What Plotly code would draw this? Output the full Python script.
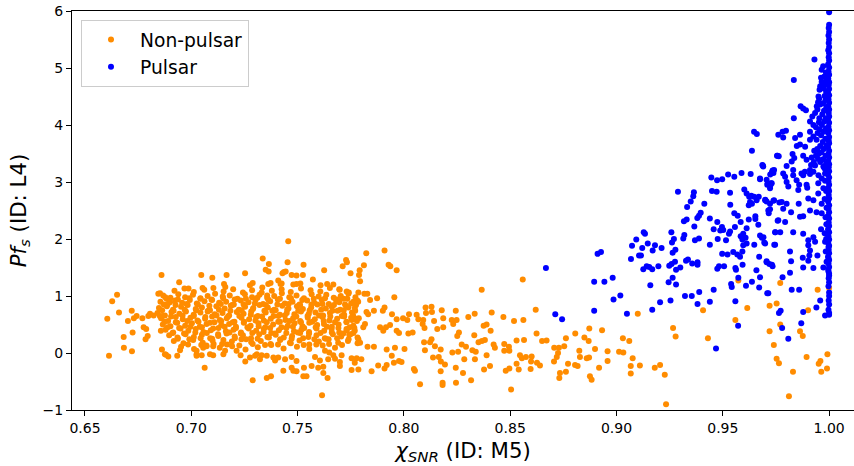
import plotly.graph_objects as go

# Non-pulsar candidates: dense body of the distribution (chi_SNR, Pf_s)
nonpulsar_core = [
    (0.6921, 1.09), (0.6968, 1.13), (0.7012, 1.07), (0.7061, 1.11), (0.7104, 1.14), (0.7152, 1.08),
    (0.7197, 1.12), (0.7243, 1.06), (0.7286, 1.10), (0.7334, 1.15), (0.7379, 1.09), (0.7425, 1.12),
    (0.7468, 1.07), (0.7516, 1.13), (0.7561, 1.10), (0.7607, 1.08), (0.7652, 1.14), (0.7698, 1.11),
    (0.7741, 1.06),
    (0.6868, 1.01), (0.6902, 0.97), (0.6939, 1.03), (0.6971, 0.98), (0.7008, 1.02), (0.7043, 0.96),
    (0.7077, 1.00), (0.7112, 1.04), (0.7148, 0.99), (0.7181, 1.01), (0.7217, 0.95), (0.7252, 1.03),
    (0.7286, 0.98), (0.7321, 1.02), (0.7357, 0.97), (0.7390, 1.00), (0.7426, 1.05), (0.7461, 0.98),
    (0.7495, 1.01), (0.7530, 0.96), (0.7566, 1.03), (0.7599, 0.99), (0.7635, 1.02), (0.7670, 0.97),
    (0.7703, 1.00), (0.7739, 1.04), (0.7772, 0.98),
    (0.6855, 0.90), (0.6889, 0.86), (0.6924, 0.92), (0.6957, 0.88), (0.6993, 0.93), (0.7026, 0.87),
    (0.7062, 0.91), (0.7095, 0.94), (0.7131, 0.88), (0.7164, 0.90), (0.7200, 0.85), (0.7233, 0.92),
    (0.7269, 0.89), (0.7302, 0.93), (0.7338, 0.86), (0.7371, 0.91), (0.7407, 0.94), (0.7440, 0.87),
    (0.7476, 0.90), (0.7509, 0.85), (0.7545, 0.92), (0.7578, 0.88), (0.7614, 0.93), (0.7647, 0.86),
    (0.7683, 0.91), (0.7716, 0.95), (0.7752, 0.87), (0.7785, 0.90),
    (0.6848, 0.79), (0.6885, 0.82), (0.6914, 0.76), (0.6952, 0.81), (0.6983, 0.84), (0.7021, 0.77),
    (0.7050, 0.80), (0.7088, 0.75), (0.7118, 0.82), (0.7157, 0.78), (0.7186, 0.83), (0.7224, 0.76),
    (0.7253, 0.81), (0.7292, 0.79), (0.7321, 0.84), (0.7360, 0.80), (0.7390, 0.76), (0.7428, 0.83),
    (0.7457, 0.78), (0.7497, 0.82), (0.7525, 0.77), (0.7564, 0.80), (0.7593, 0.85), (0.7633, 0.78),
    (0.7661, 0.81), (0.7700, 0.76), (0.7729, 0.82), (0.7769, 0.79),
    (0.6841, 0.70), (0.6876, 0.66), (0.6907, 0.72), (0.6944, 0.69), (0.6975, 0.73), (0.7011, 0.67),
    (0.7043, 0.71), (0.7079, 0.74), (0.7110, 0.68), (0.7147, 0.70), (0.7178, 0.66), (0.7214, 0.72),
    (0.7246, 0.69), (0.7282, 0.73), (0.7313, 0.65), (0.7350, 0.71), (0.7381, 0.74), (0.7417, 0.67),
    (0.7449, 0.70), (0.7485, 0.68), (0.7516, 0.73), (0.7553, 0.69), (0.7584, 0.71), (0.7620, 0.66),
    (0.7652, 0.70), (0.7688, 0.74), (0.7719, 0.67), (0.7756, 0.71),
    (0.6858, 0.61), (0.6891, 0.56), (0.6927, 0.63), (0.6960, 0.59), (0.6996, 0.62), (0.7029, 0.57),
    (0.7065, 0.60), (0.7098, 0.64), (0.7134, 0.58), (0.7167, 0.61), (0.7203, 0.55), (0.7236, 0.62),
    (0.7272, 0.59), (0.7305, 0.63), (0.7341, 0.57), (0.7374, 0.60), (0.7410, 0.65), (0.7443, 0.58),
    (0.7479, 0.61), (0.7512, 0.56), (0.7548, 0.62), (0.7581, 0.59), (0.7617, 0.63), (0.7650, 0.57),
    (0.7686, 0.60), (0.7719, 0.64), (0.7755, 0.58), (0.7788, 0.61),
    (0.6866, 0.50), (0.6902, 0.47), (0.6934, 0.53), (0.6971, 0.48), (0.7003, 0.52), (0.7040, 0.46),
    (0.7072, 0.51), (0.7109, 0.54), (0.7141, 0.49), (0.7178, 0.51), (0.7210, 0.46), (0.7247, 0.53),
    (0.7279, 0.48), (0.7316, 0.52), (0.7348, 0.45), (0.7385, 0.50), (0.7417, 0.55), (0.7454, 0.48),
    (0.7486, 0.52), (0.7523, 0.47), (0.7555, 0.53), (0.7592, 0.49), (0.7624, 0.51), (0.7661, 0.46),
    (0.7693, 0.50), (0.7730, 0.54), (0.7762, 0.48),
    (0.6879, 0.41), (0.6915, 0.36), (0.6950, 0.43), (0.6986, 0.39), (0.7021, 0.42), (0.7057, 0.37),
    (0.7092, 0.40), (0.7128, 0.44), (0.7163, 0.38), (0.7199, 0.41), (0.7234, 0.36), (0.7270, 0.43),
    (0.7305, 0.39), (0.7341, 0.42), (0.7376, 0.35), (0.7412, 0.40), (0.7447, 0.44), (0.7483, 0.38),
    (0.7518, 0.41), (0.7554, 0.37), (0.7589, 0.43), (0.7625, 0.39), (0.7660, 0.42), (0.7696, 0.36),
    (0.7731, 0.40), (0.7767, 0.44),
    (0.6896, 0.31), (0.6935, 0.27), (0.6973, 0.33), (0.7012, 0.28), (0.7050, 0.32), (0.7089, 0.26),
    (0.7127, 0.30), (0.7166, 0.34), (0.7204, 0.29), (0.7243, 0.31), (0.7281, 0.26), (0.7320, 0.33),
    (0.7358, 0.28), (0.7397, 0.32), (0.7435, 0.27), (0.7474, 0.30), (0.7512, 0.35), (0.7551, 0.28),
    (0.7589, 0.31), (0.7628, 0.26), (0.7666, 0.33), (0.7705, 0.29), (0.7743, 0.32), (0.7782, 0.27),
    (0.6918, 0.21), (0.6963, 0.17), (0.7009, 0.23), (0.7054, 0.18), (0.7100, 0.22), (0.7145, 0.16),
    (0.7191, 0.20), (0.7236, 0.24), (0.7282, 0.19), (0.7327, 0.21), (0.7373, 0.16), (0.7418, 0.23),
    (0.7464, 0.18), (0.7509, 0.22), (0.7555, 0.15), (0.7600, 0.20), (0.7646, 0.24), (0.7691, 0.18),
    (0.7737, 0.21), (0.7782, 0.17),
    (0.6952, 0.11), (0.7013, 0.07), (0.7071, 0.13), (0.7134, 0.09), (0.7192, 0.12), (0.7255, 0.06),
    (0.7313, 0.10), (0.7376, 0.14), (0.7434, 0.08), (0.7497, 0.11), (0.7555, 0.07), (0.7618, 0.13),
    (0.7676, 0.09),
    # in-between layers of the crowded body
    (0.6884, 0.95), (0.6937, 0.94), (0.6991, 0.96), (0.7043, 0.95), (0.7098, 0.93), (0.7150, 0.96),
    (0.7204, 0.94), (0.7257, 0.95), (0.7311, 0.97), (0.7362, 0.94), (0.7417, 0.95), (0.7469, 0.96),
    (0.7522, 0.93), (0.7576, 0.95), (0.7629, 0.96), (0.7681, 0.94), (0.7734, 0.95),
    (0.6871, 0.85), (0.6926, 0.84), (0.6978, 0.86), (0.7031, 0.85), (0.7085, 0.83), (0.7139, 0.86),
    (0.7192, 0.84), (0.7246, 0.85), (0.7299, 0.87), (0.7351, 0.84), (0.7405, 0.85), (0.7458, 0.86),
    (0.7512, 0.84), (0.7565, 0.85), (0.7617, 0.86), (0.7671, 0.84), (0.7723, 0.85), (0.7775, 0.84),
    (0.6863, 0.75), (0.6917, 0.74), (0.6969, 0.76), (0.7023, 0.75), (0.7077, 0.73), (0.7130, 0.76),
    (0.7184, 0.74), (0.7237, 0.75), (0.7290, 0.77), (0.7344, 0.74), (0.7397, 0.75), (0.7451, 0.76),
    (0.7503, 0.74), (0.7557, 0.75), (0.7611, 0.76), (0.7664, 0.74), (0.7717, 0.75), (0.7771, 0.74),
    (0.6852, 0.65), (0.6905, 0.64), (0.6959, 0.66), (0.7012, 0.65), (0.7066, 0.63), (0.7119, 0.66),
    (0.7173, 0.64), (0.7226, 0.65), (0.7280, 0.67), (0.7333, 0.64), (0.7387, 0.65), (0.7440, 0.66),
    (0.7494, 0.64), (0.7547, 0.65), (0.7601, 0.66), (0.7654, 0.64), (0.7708, 0.65), (0.7761, 0.66),
    (0.6874, 0.55), (0.6927, 0.54), (0.6981, 0.56), (0.7034, 0.55), (0.7088, 0.53), (0.7141, 0.56),
    (0.7195, 0.54), (0.7248, 0.55), (0.7302, 0.57), (0.7355, 0.54), (0.7409, 0.55), (0.7462, 0.56),
    (0.7516, 0.54), (0.7569, 0.55), (0.7623, 0.56), (0.7676, 0.54), (0.7730, 0.55), (0.7779, 0.56),
    (0.6889, 0.45), (0.6943, 0.44), (0.6996, 0.46), (0.7050, 0.45), (0.7103, 0.43), (0.7157, 0.46),
    (0.7210, 0.44), (0.7264, 0.45), (0.7317, 0.47), (0.7371, 0.44), (0.7424, 0.45), (0.7478, 0.46),
    (0.7531, 0.44), (0.7585, 0.45), (0.7638, 0.46), (0.7692, 0.44), (0.7745, 0.45),
    (0.6912, 0.35), (0.6966, 0.34), (0.7019, 0.36), (0.7073, 0.35), (0.7126, 0.33), (0.7180, 0.36),
    (0.7233, 0.34), (0.7287, 0.35), (0.7340, 0.37), (0.7394, 0.34), (0.7447, 0.35), (0.7501, 0.36),
    (0.7554, 0.34), (0.7608, 0.35), (0.7661, 0.36), (0.7715, 0.34), (0.7762, 0.35),
    (0.6937, 0.25), (0.6991, 0.24), (0.7044, 0.26), (0.7098, 0.25), (0.7151, 0.23), (0.7205, 0.26),
    (0.7258, 0.24), (0.7312, 0.25), (0.7365, 0.27), (0.7419, 0.24), (0.7472, 0.25), (0.7526, 0.26),
    (0.7579, 0.24), (0.7633, 0.25), (0.7686, 0.26), (0.7740, 0.24),
    (0.6985, 0.15), (0.7047, 0.14), (0.7105, 0.16), (0.7168, 0.15), (0.7226, 0.13), (0.7289, 0.16),
    (0.7347, 0.14), (0.7408, 0.15), (0.7468, 0.17), (0.7529, 0.14), (0.7588, 0.15), (0.7648, 0.16),
    (0.7709, 0.14),
]

# Non-pulsar candidates: outer scatter and the long tail towards chi_SNR = 1
nonpulsar_spread = [
    (0.6605, 0.60), (0.6613, -0.05), (0.6628, 0.91), (0.6651, 1.02), (0.6660, 0.71), (0.6682, 0.28),
    (0.6683, 0.09), (0.6702, 0.56), (0.6720, 0.74), (0.6721, 0.03), (0.6724, 0.36), (0.6730, 0.61),
    (0.6743, 0.65), (0.6770, 0.61), (0.6776, 0.45), (0.6785, 0.24), (0.6795, 0.30), (0.6798, 0.65),
    (0.6806, 0.69), (0.6823, 0.66), (0.6788, 0.42), (0.6845, 1.04), (0.6860, 1.37), (0.6857, 0.39),
    (0.6862, 0.06), (0.6881, -0.03), (0.6878, 0.98), (0.6864, 0.65), (0.6892, -0.06), (0.6934, -0.05),
    (0.6947, 0.05), (0.7025, -0.02), (0.7025, 0.04), (0.7056, 0.09), (0.7072, 0.12), (0.7103, 0.12),
    (0.7047, 1.37), (0.7099, 1.32), (0.7166, 1.37), (0.7253, 1.40), (0.6943, 1.24), (0.6987, 1.13),
    (0.7053, 1.14), (0.7154, 1.21), (0.7160, 1.16), (0.7276, 1.19), (0.7289, 1.23), (0.7331, 1.06),
    (0.7357, 1.01), (0.7409, 1.27), (0.7436, 1.42), (0.7420, 1.21), (0.7472, 1.37), (0.7495, 1.21),
    (0.6853, 1.05), (0.6900, 0.89), (0.6876, -0.02), (0.7025, -0.05), (0.7049, -0.04), (0.7063, -0.26),
    (0.7088, -0.02), (0.7103, -0.04), (0.7151, -0.02), (0.7159, 0.04), (0.7213, 0.04), (0.7232, -0.04),
    (0.7254, -0.15), (0.7289, -0.48), (0.7355, -0.44), (0.7375, -0.41), (0.7276, -0.08), (0.7308, -0.02),
    (0.7331, -0.04), (0.7433, -0.31), (0.7472, -0.26), (0.7495, -0.32), (0.7394, -0.13), (0.7409, -0.08),
    (0.7456, 1.96), (0.7336, 1.66), (0.7365, 1.56), (0.7453, 1.59), (0.7528, 1.55), (0.7728, 1.63),
    (0.7732, 1.59), (0.7823, 1.75), (0.7909, 1.80), (0.7928, 1.55), (0.7936, 1.52), (0.7966, 1.45),
    (0.7812, 1.54), (0.7792, 1.45), (0.7789, 1.37), (0.7794, 1.26), (0.7712, 1.52), (0.7749, 1.40),
    (0.7625, 1.45), (0.7572, 1.29), (0.7525, 1.37), (0.7495, 1.36), (0.7429, 1.40), (0.7444, 1.43),
    (0.7364, 1.43), (0.7350, 1.46), (0.7362, 1.21), (0.7373, 1.23), (0.7425, 1.22), (0.7480, 1.20),
    (0.7513, 1.22), (0.7608, 1.19), (0.7639, 1.21), (0.7668, 1.20), (0.7696, 1.12), (0.7731, 1.08),
    (0.7786, 1.06), (0.7814, 1.04), (0.7828, 1.04), (0.7955, 0.98), (0.7874, 0.96), (0.7841, 0.93),
    (0.7909, 0.80), (0.7901, 0.74), (0.7944, 0.68), (0.7966, 0.59), (0.7996, 0.61), (0.8024, 0.68),
    (0.8016, 0.58), (0.8060, 0.67), (0.8068, 0.59), (0.8102, 0.80), (0.8130, 0.81), (0.8104, 0.70),
    (0.8132, 0.72), (0.8091, 0.58), (0.8088, 0.51), (0.8097, 0.44), (0.8142, 0.56), (0.8157, 0.42),
    (0.8185, 0.45), (0.8130, 0.24), (0.8123, 0.19), (0.8146, 0.12), (0.8095, 0.19), (0.8099, 0.05),
    (0.8173, 0.06), (0.8164, -0.07), (0.8137, -0.08), (0.8076, -0.55), (0.8052, -0.31), (0.8047, -0.28),
    (0.8173, -0.32), (0.8003, 0.07), (0.8021, 0.34), (0.8041, 0.36), (0.7966, 0.39), (0.7977, 0.35),
    (0.7935, 0.49), (0.7916, 0.45), (0.7903, 0.39), (0.7958, 0.09), (0.7919, 0.06), (0.7943, -0.05),
    (0.7953, -0.17), (0.7919, -0.21), (0.7909, -0.27), (0.7977, -0.14), (0.7989, -0.16), (0.7848, -0.32),
    (0.7879, -0.22), (0.7829, 0.11), (0.7859, 0.11), (0.7800, -0.11), (0.7778, -0.09), (0.7786, 0.24),
    (0.7794, 0.18), (0.7749, 0.33), (0.7769, 0.39), (0.7730, 0.42), (0.7809, 0.45), (0.7817, 0.51),
    (0.7888, 0.45), (0.7832, 0.68), (0.7824, 0.72), (0.7859, 0.74), (0.7752, 0.62), (0.7778, 0.60),
    (0.7739, 0.80), (0.7762, 0.90), (0.7781, 0.92), (0.7696, 0.89), (0.7699, 0.95), (0.7707, -0.04),
    (0.7668, -0.04), (0.7644, -0.11), (0.7699, -0.16), (0.7676, -0.10), (0.7699, -0.23), (0.7754, -0.09),
    (0.7769, -0.17), (0.7754, -0.30), (0.7786, -0.29), (0.7621, -0.24), (0.7597, -0.26), (0.7641, -0.44),
    (0.7621, -0.35), (0.7542, -0.41), (0.7527, -0.41), (0.7530, -0.26), (0.7566, -0.23), (0.7480, -0.31),
    (0.7615, -0.74), (0.7495, -0.14), (0.7472, -0.07), (0.7441, -0.11), (0.7386, -0.08), (0.7355, -0.05),
    (0.7323, -0.11), (0.7300, -0.05), (0.7582, -0.07), (0.7605, -0.13), (0.7629, 0.04), (0.7649, 0.01),
    (0.8559, 1.29), (0.8366, 1.11), (0.8620, 0.76), (0.8178, 0.75), (0.8244, 0.74), (0.8185, 0.61),
    (0.8225, 0.58), (0.8248, 0.58), (0.8232, 0.51), (0.8303, 0.63), (0.8333, 0.69), (0.8413, 0.71),
    (0.8468, 0.63), (0.8518, 0.56), (0.8562, 0.58), (0.8375, 0.48), (0.8389, 0.50), (0.8408, 0.39),
    (0.8259, 0.36), (0.8251, 0.30), (0.8331, 0.31), (0.8351, 0.19), (0.8367, 0.21), (0.8381, 0.23),
    (0.8272, 0.15), (0.8292, 0.11), (0.8228, 0.01), (0.8255, 0.02), (0.8322, 0.05), (0.8338, 0.02),
    (0.8284, -0.11), (0.8334, -0.11), (0.8389, -0.04), (0.8405, -0.23), (0.8377, -0.29), (0.8193, -0.20),
    (0.8174, -0.15), (0.8244, -0.26), (0.8278, -0.35), (0.8316, -0.48), (0.8182, -0.52), (0.8182, -0.56),
    (0.8245, -0.52), (0.8422, 0.15), (0.8428, 0.09), (0.8472, 0.16), (0.8494, 0.11), (0.8472, 0.04),
    (0.8496, 0.04), (0.8530, 0.22), (0.8565, 0.23), (0.8546, -0.04), (0.8555, -0.09), (0.8574, -0.07),
    (0.8601, -0.06), (0.8530, -0.19), (0.8540, -0.29), (0.8479, -0.31), (0.8496, -0.27), (0.8504, -0.64),
    (0.8598, -0.15), (0.8596, -0.28), (0.8626, -0.17), (0.8640, -0.22), (0.8650, 0.21), (0.8671, 0.22),
    (0.8624, 0.34), (0.8707, 0.09), (0.8729, 0.09), (0.8754, 0.12), (0.8762, 0.26), (0.8725, 0.00),
    (0.8719, -0.07), (0.8706, -0.15), (0.8734, -0.35), (0.8731, -0.44), (0.8762, -0.33), (0.8806, 0.34),
    (0.8849, 0.27), (0.8869, 0.21), (0.8872, 0.43), (0.8932, 0.40), (0.8825, 0.04), (0.8828, -0.07),
    (0.8860, -0.09), (0.8871, -0.08), (0.8772, -0.19), (0.8805, -0.21), (0.8817, -0.23), (0.8875, -0.41),
    (0.8883, -0.47), (0.8918, -0.26), (0.8958, 0.03), (0.8958, -0.14), (0.8899, 0.07), (0.9012, 0.02),
    (0.9032, 0.01), (0.9030, 0.26), (0.9060, 0.21), (0.9067, -0.23), (0.9067, -0.36),
    (0.9100, 0.69), (0.9266, 0.44), (0.9278, 0.29), (0.9407, 0.75), (0.9430, 0.26), (0.9559, 0.58),
    (0.9615, 0.79), (0.9573, 1.27), (0.9076, -0.09), (0.9110, -0.22), (0.9180, -0.26), (0.9205, -0.21),
    (0.9227, -0.38), (0.9233, -0.90), (0.9720, 0.38), (0.9720, 0.83), (0.9770, 1.23), (0.9753, 0.87),
    (0.9770, 0.50), (0.9740, 0.14), (0.9753, -0.10), (0.9764, -0.18), (0.9830, -0.33), (0.9811, -0.76),
    (0.9863, 0.38), (0.9876, 0.30), (0.9894, -0.07), (0.9901, 0.75), (0.9946, 1.11), (1.0000, 1.14),
    (0.9951, -0.19), (0.9959, -0.14), (0.9992, -0.02), (0.9990, -0.27), (0.9963, -0.33),
]

# Pulsars: broad cloud rising towards high chi_SNR
pulsar_cloud = [
    (0.8668, 1.49), (0.8712, 0.68), (0.8744, 0.59), (0.8895, 1.25), (0.8943, 1.25), (0.8982, 1.32),
    (0.8911, 1.74), (0.8927, 1.77), (0.9073, 1.88), (0.9093, 1.99), (0.9068, 1.65), (0.9106, 1.71),
    (0.8986, 0.94), (0.9018, 1.01), (0.8895, 0.74), (0.9049, 0.69),
    (0.9637, 3.55), (0.9755, 3.46), (0.9686, 3.30), (0.9690, 3.27), (0.9734, 3.20), (0.9723, 3.13),
    (0.9706, 3.04), (0.9711, 2.98), (0.9727, 2.98), (0.9723, 2.93), (0.9675, 3.05), (0.9631, 3.14),
    (0.9588, 3.16), (0.9554, 3.09), (0.9525, 3.13), (0.9497, 3.05), (0.9473, 3.03), (0.9446, 3.08),
    (0.9289, 2.83), (0.9364, 2.82), (0.9361, 2.75), (0.9349, 2.66), (0.9332, 2.56), (0.9449, 2.84),
    (0.9471, 2.83), (0.9534, 2.81), (0.9601, 2.87), (0.9612, 2.80), (0.9624, 2.74), (0.9634, 2.76),
    (0.9647, 2.74), (0.9669, 2.74), (0.9659, 2.68), (0.9628, 2.65), (0.9622, 2.59), (0.9637, 2.62),
    (0.9700, 2.69), (0.9706, 2.66), (0.9722, 2.62), (0.9741, 2.68), (0.9766, 2.64), (0.9722, 2.52),
    (0.9716, 2.45), (0.9758, 2.32), (0.9535, 2.60), (0.9413, 2.62), (0.9396, 2.46), (0.9388, 2.41),
    (0.9380, 2.37), (0.9439, 2.36), (0.9474, 2.30), (0.9496, 2.21), (0.9502, 2.16), (0.9488, 2.15),
    (0.9554, 2.45), (0.9570, 2.41), (0.9584, 2.30), (0.9622, 2.34), (0.9653, 2.40), (0.9653, 2.35),
    (0.9667, 2.25), (0.9557, 2.21), (0.9534, 2.13), (0.9529, 2.09), (0.9612, 2.19), (0.9330, 2.34),
    (0.9317, 2.31), (0.9366, 2.22), (0.9457, 2.17), (0.9319, 2.07), (0.9258, 2.12), (0.9128, 2.12),
    (0.9134, 2.09), (0.9147, 1.92), (0.9121, 1.84), (0.9181, 1.89), (0.9170, 1.80), (0.9212, 1.84),
    (0.9115, 1.71), (0.9142, 1.52), (0.9126, 1.47), (0.9154, 1.51), (0.9168, 1.47), (0.9197, 1.52),
    (0.9159, 1.19), (0.9168, 0.76), (0.9205, 0.89), (0.9254, 0.92), (0.9270, 2.00), (0.9261, 1.94),
    (0.9277, 1.81), (0.9264, 1.76), (0.9314, 2.01), (0.9369, 1.98), (0.9388, 2.01), (0.9259, 1.56),
    (0.9275, 1.60), (0.9248, 1.53), (0.9327, 1.62), (0.9336, 1.64), (0.9356, 1.57), (0.9381, 1.59),
    (0.9381, 1.55), (0.9300, 1.50), (0.9280, 1.46), (0.9264, 1.32), (0.9245, 1.24), (0.9280, 1.20),
    (0.9322, 1.00), (0.9354, 1.00), (0.9389, 1.07), (0.9381, 0.86), (0.9439, 0.90), (0.9457, 1.11),
    (0.9482, 1.52), (0.9474, 1.48), (0.9506, 1.52), (0.9439, 1.90), (0.9476, 2.00), (0.9515, 1.98),
    (0.9497, 1.74), (0.9522, 1.73), (0.9549, 1.77), (0.9568, 1.73), (0.9581, 1.69), (0.9592, 1.78),
    (0.9559, 1.49), (0.9562, 1.46), (0.9593, 1.55), (0.9539, 1.21), (0.9542, 1.16), (0.9559, 0.91),
    (0.9572, 0.48), (0.9468, 0.08), (0.9573, 1.32), (0.9609, 1.18), (0.9637, 1.25), (0.9671, 1.15),
    (0.9675, 1.33), (0.9658, 1.45), (0.9714, 1.05), (0.9706, 1.59), (0.9719, 1.56), (0.9731, 1.55),
    (0.9671, 1.69), (0.9695, 1.94), (0.9684, 2.02), (0.9675, 2.06), (0.9648, 1.90), (0.9612, 1.92),
    (0.9592, 1.99), (0.9596, 1.89), (0.9607, 2.02), (0.9584, 2.05), (0.9596, 2.09), (0.9747, 2.12),
    (0.9742, 1.90),
    (0.9931, 5.15), (0.9834, 4.79), (0.9965, 4.97), (0.9972, 5.03), (0.9962, 4.83), (0.9965, 4.76),
    (0.9958, 4.68), (0.9950, 4.50), (0.9953, 4.46), (0.9866, 4.33), (0.9878, 4.29), (0.9891, 4.26),
    (0.9834, 4.12), (0.9921, 4.15), (0.9934, 4.21), (0.9945, 4.27), (0.9910, 4.06), (0.9926, 4.00),
    (0.9954, 4.12), (0.9781, 3.88), (0.9797, 3.90), (0.9761, 3.83), (0.9784, 3.78), (0.9840, 3.77),
    (0.9863, 3.83), (0.9910, 3.88), (0.9926, 3.80), (0.9910, 3.74), (0.9941, 3.74), (0.9848, 3.63),
    (0.9863, 3.66), (0.9887, 3.62), (0.9757, 3.46), (0.9763, 3.45), (0.9828, 3.49), (0.9836, 3.42),
    (0.9824, 3.36), (0.9878, 3.46), (0.9894, 3.39), (0.9918, 3.43), (0.9688, 3.29), (0.9731, 3.17),
    (0.9741, 3.21), (0.9784, 3.15), (0.9800, 3.28), (0.9831, 3.21), (0.9878, 3.12), (0.9910, 3.21),
    (0.9934, 3.29), (0.9958, 3.35), (0.9973, 3.27), (0.9647, 3.88), (0.9660, 3.84),
    (0.9738, 3.16), (0.9793, 3.09), (0.9831, 3.12), (0.9870, 3.15), (0.9886, 3.18), (0.9910, 3.14),
    (0.9926, 3.18), (0.9950, 3.12), (0.9965, 3.06), (0.9981, 3.15), (0.9675, 3.06), (0.9730, 2.98),
    (0.9709, 2.95), (0.9722, 2.89), (0.9800, 3.00), (0.9808, 2.92), (0.9847, 3.03), (0.9859, 2.95),
    (0.9855, 2.86), (0.9894, 2.95), (0.9897, 2.90), (0.9949, 2.98), (0.9949, 2.80), (0.9973, 2.89),
    (0.9699, 2.68), (0.9738, 2.67), (0.9714, 2.50), (0.9777, 2.65), (0.9800, 2.62), (0.9784, 2.53),
    (0.9821, 2.47), (0.9857, 2.62), (0.9902, 2.71), (0.9926, 2.68), (0.9910, 2.50), (0.9941, 2.47),
    (0.9965, 2.62), (0.9965, 2.45), (0.9863, 2.39), (0.9878, 2.40), (0.9831, 2.12), (0.9878, 2.09),
    (0.9902, 1.98), (0.9926, 2.03), (0.9934, 1.95), (0.9902, 1.89), (0.9910, 1.80), (0.9962, 2.17),
    (0.9981, 1.95), (0.9761, 2.33), (0.9793, 2.30), (0.9746, 2.12), (0.9770, 2.12), (0.9691, 2.03),
    (0.9699, 1.92), (0.9746, 1.90), (0.9816, 1.78), (0.9821, 1.61), (0.9876, 1.67), (0.9902, 1.62),
    (0.9907, 1.71), (0.9945, 1.71), (0.9706, 1.61), (0.9734, 1.52), (0.9878, 1.50), (0.9926, 1.49),
    (0.9973, 1.50), (0.9816, 1.41), (0.9781, 1.33), (0.9709, 1.05), (0.9824, 1.11), (0.9859, 1.11),
    (0.9958, 0.92), (0.9940, 0.80), (0.9981, 0.66), (0.9878, 0.72), (0.9764, 0.70), (0.9772, 0.74),
    (0.9779, 0.44), (0.9869, 0.52), (0.9808, 0.25),
]

# Pulsars: the narrow ridge piled up at chi_SNR close to 1
pulsar_edge = [
    (1.0000, 5.98), (1.0000, 5.76), (0.9998, 5.70), (1.0000, 5.63), (0.9997, 5.57), (1.0000, 5.50),
    (0.9998, 5.44), (1.0000, 5.37), (0.9996, 5.31), (1.0000, 5.26), (0.9998, 5.19), (1.0000, 5.13),
    (0.9995, 5.06), (1.0000, 5.01), (0.9997, 4.94), (1.0000, 4.88), (0.9996, 4.81), (1.0000, 4.75),
    (0.9998, 4.70), (1.0000, 4.63), (0.9995, 4.57), (1.0000, 4.52), (0.9997, 4.45), (1.0000, 4.39),
    (0.9996, 4.33), (1.0000, 4.27), (0.9998, 4.21), (1.0000, 4.15), (0.9995, 4.09), (1.0000, 4.04),
    (0.9997, 3.97), (1.0000, 3.91), (0.9996, 3.86), (1.0000, 3.79), (0.9998, 3.73), (1.0000, 3.68),
    (0.9995, 3.61), (1.0000, 3.55), (0.9997, 3.49), (1.0000, 3.43), (0.9996, 3.37), (1.0000, 3.31),
    (0.9998, 3.26), (1.0000, 3.19), (0.9995, 3.13), (1.0000, 3.08), (0.9997, 3.01), (1.0000, 2.95),
    (0.9996, 2.89), (1.0000, 2.84), (0.9998, 2.77), (1.0000, 2.71), (0.9995, 2.66), (1.0000, 2.59),
    (0.9997, 2.53), (1.0000, 2.47), (0.9996, 2.41), (1.0000, 2.36), (0.9998, 2.29), (1.0000, 2.23),
    (0.9995, 2.17), (1.0000, 2.12), (0.9997, 2.05), (1.0000, 1.99), (0.9996, 1.93), (1.0000, 1.88),
    (0.9998, 1.81), (1.0000, 1.75), (0.9995, 1.69), (1.0000, 1.63), (0.9997, 1.57), (1.0000, 1.51),
    (0.9996, 1.46), (1.0000, 1.39), (0.9998, 1.31), (1.0000, 1.24), (0.9997, 1.17), (1.0000, 1.00),
    (0.9998, 0.92), (1.0000, 0.85), (0.9997, 0.76), (1.0000, 0.70), (1.0000, 1.06), (1.0000, 0.67),
    (0.9985, 4.92), (0.9978, 4.85), (0.9988, 4.78), (0.9980, 4.71), (0.9975, 4.64), (0.9986, 4.58),
    (0.9979, 4.51), (0.9983, 4.44), (0.9972, 4.38), (0.9987, 4.31), (0.9976, 4.25), (0.9968, 4.19),
    (0.9984, 4.12), (0.9977, 4.06), (0.9966, 4.00), (0.9985, 3.94), (0.9974, 3.88), (0.9962, 3.82),
    (0.9982, 3.76), (0.9970, 3.70), (0.9987, 3.64), (0.9975, 3.58), (0.9964, 3.52), (0.9983, 3.46),
    (0.9972, 3.40), (0.9986, 3.33), (0.9978, 3.24), (0.9988, 3.18), (0.9981, 3.02), (0.9986, 2.84),
    (0.9979, 2.70), (0.9988, 2.55), (0.9983, 2.38), (0.9987, 2.26), (0.9979, 2.10), (0.9986, 2.00),
    (0.9984, 1.78), (0.9988, 1.60), (0.9997, 1.86), (0.9997, 1.67), (0.9997, 1.43), (1.0000, 1.36),
    (0.9955, 4.62), (0.9948, 4.40), (0.9958, 4.36), (0.9942, 4.33), (0.9952, 4.05), (0.9938, 3.96),
    (0.9956, 3.92), (0.9946, 3.86), (0.9958, 3.63), (0.9944, 3.58), (0.9930, 3.55), (0.9952, 3.50),
    (0.9938, 3.46), (0.9948, 3.41), (0.9928, 3.35), (0.9915, 3.30),
]

x_ticks = [0.65, 0.70, 0.75, 0.80, 0.85, 0.90, 0.95, 1.00]
x_tick_labels = ["0.65", "0.70", "0.75", "0.80", "0.85", "0.90", "0.95", "1.00"]
y_ticks = [-1, 0, 1, 2, 3, 4, 5, 6]
y_tick_labels = ["\u22121", "0", "1", "2", "3", "4", "5", "6"]

ORANGE = "#ff8c00"
BLUE = "#0000ff"
FONT = "DejaVu Sans"

nonpulsar = nonpulsar_core + nonpulsar_spread
pulsar = pulsar_cloud + pulsar_edge

fig = go.Figure()
fig.add_trace(go.Scatter(
    x=[p[0] for p in nonpulsar], y=[p[1] for p in nonpulsar],
    mode="markers", name="Non-pulsar",
    marker=dict(color=ORANGE, size=6, line=dict(width=0)),
))
fig.add_trace(go.Scatter(
    x=[p[0] for p in pulsar], y=[p[1] for p in pulsar],
    mode="markers", name="Pulsar",
    marker=dict(color=BLUE, size=6, line=dict(width=0)),
))

axis_common = dict(
    showline=True, linecolor="black", linewidth=1,
    ticks="outside", ticklen=5, tickwidth=1, tickcolor="black",
    showgrid=False, zeroline=False,
    tickfont=dict(family=FONT, size=14, color="black"),
)

fig.update_layout(
    width=854, height=466,
    margin=dict(l=72, r=0, t=11, b=56),
    paper_bgcolor="white", plot_bgcolor="white",
    font=dict(family=FONT, color="black"),
    showlegend=True,
    legend=dict(
        x=0.0115, y=0.978, xanchor="left", yanchor="top",
        bgcolor="rgba(255,255,255,0.8)", bordercolor="#cccccc", borderwidth=1,
        font=dict(family=FONT, size=18.7, color="black"),
        itemwidth=48, tracegroupgap=0,
    ),
    xaxis=dict(
        range=[0.6439, 1.0117], tickvals=x_ticks, ticktext=x_tick_labels, mirror=True,
        title=dict(text="<i>χ</i><sub><i>SNR</i></sub> (ID: M5)", font=dict(family=FONT, size=21.3), standoff=8),
        **axis_common,
    ),
    yaxis=dict(
        range=[-1, 6], tickvals=y_ticks, ticktext=y_tick_labels,
        title=dict(text="<i>Pf</i><sub><i>s</i></sub> (ID: L4)", font=dict(family=FONT, size=21.3), standoff=10),
        **axis_common,
    ),
)

fig.write_html("out.html")
